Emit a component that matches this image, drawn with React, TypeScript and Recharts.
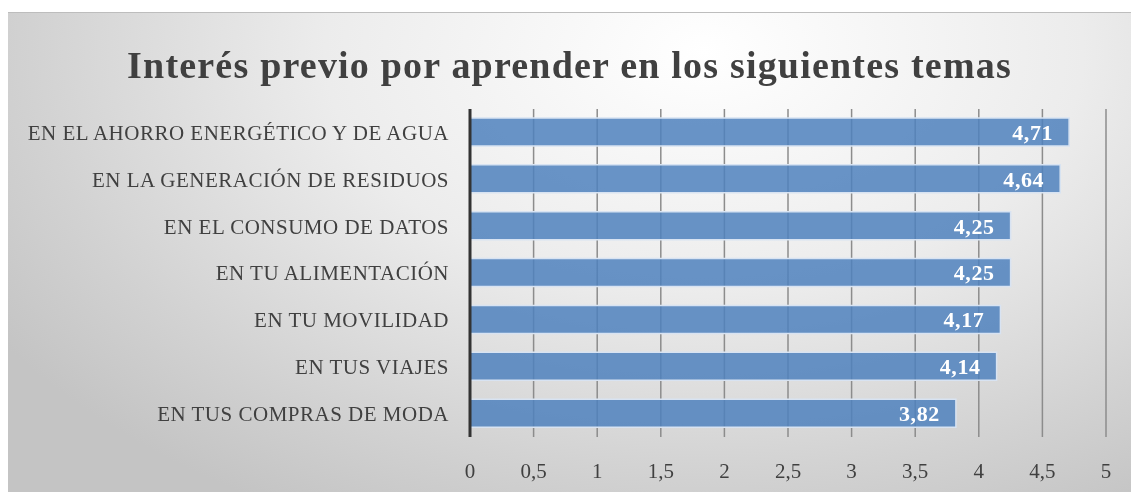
import { Bar, BarChart, CartesianGrid, LabelList, XAxis, YAxis } from "recharts";

const temas = [
  "EN EL AHORRO ENERGÉTICO Y DE AGUA",
  "EN LA GENERACIÓN DE RESIDUOS",
  "EN EL CONSUMO DE DATOS",
  "EN TU ALIMENTACIÓN",
  "EN TU MOVILIDAD",
  "EN TUS VIAJES",
  "EN TUS COMPRAS DE MODA",
];
const interes = [4.71, 4.64, 4.25, 4.25, 4.17, 4.14, 3.82];
const ticks = [0, 0.5, 1, 1.5, 2, 2.5, 3, 3.5, 4, 4.5, 5];

const data = temas.map((tema, i) => ({ tema, valor: interes[i] }));

const FONT = "'Liberation Serif', serif";
const comma = (v: any) => String(v).replace(".", ",");

export default function App() {
  return (
    <div
      style={{
        position: "fixed",
        left: 8,
        top: 12,
        width: 1123,
        height: 480,
        borderTop: "1px solid #bdbdbd",
        background:
          "radial-gradient(ellipse 75% 110% at 62% 8%, #ffffff 0%, #ececec 45%, #d2d2d2 80%, #c4c4c4 100%)",
        fontFamily: FONT,
      }}
    >
      <div
        style={{
          position: "absolute",
          top: 30,
          left: 0,
          width: "100%",
          textAlign: "center",
          fontSize: 38,
          fontWeight: "bold",
          letterSpacing: 1.2,
          color: "#404040",
        }}
      >
        Interés previo por aprender en los siguientes temas
      </div>
      <BarChart
        width={1123}
        height={480}
        data={data}
        layout="vertical"
        barSize={28}
        margin={{ top: 96, right: 25, left: 0, bottom: 0 }}
        style={{ position: "absolute", top: 0, left: 0 }}
      >
        <CartesianGrid horizontal={false} stroke="#8c8c8c" strokeWidth={1.5} />
        <XAxis
          type="number"
          domain={[0, 5]}
          ticks={ticks}
          tickFormatter={comma}
          axisLine={false}
          tickLine={false}
          tickMargin={20}
          height={56}
          tick={{ fill: "#404040", fontSize: 21, fontFamily: FONT }}
        />
        <YAxis
          type="category"
          dataKey="tema"
          width={462}
          axisLine={{ stroke: "#333333", strokeWidth: 3 }}
          tickLine={false}
          tickMargin={15}
          tick={{ fill: "#404040", fontSize: 21, fontFamily: FONT, letterSpacing: 0.5 }}
        />
        <Bar
          dataKey="valor"
          fill="#4f81bd"
          fillOpacity={0.85}
          stroke="#d8e3f2"
          strokeWidth={1.5}
          isAnimationActive={false}
        >
          <LabelList
            dataKey="valor"
            position="insideRight"
            offset={16}
            formatter={comma}
            fill="#ffffff"
            style={{ fontSize: 22, fontWeight: "bold", fontFamily: FONT, letterSpacing: 0.6 }}
          />
        </Bar>
      </BarChart>
    </div>
  );
}
